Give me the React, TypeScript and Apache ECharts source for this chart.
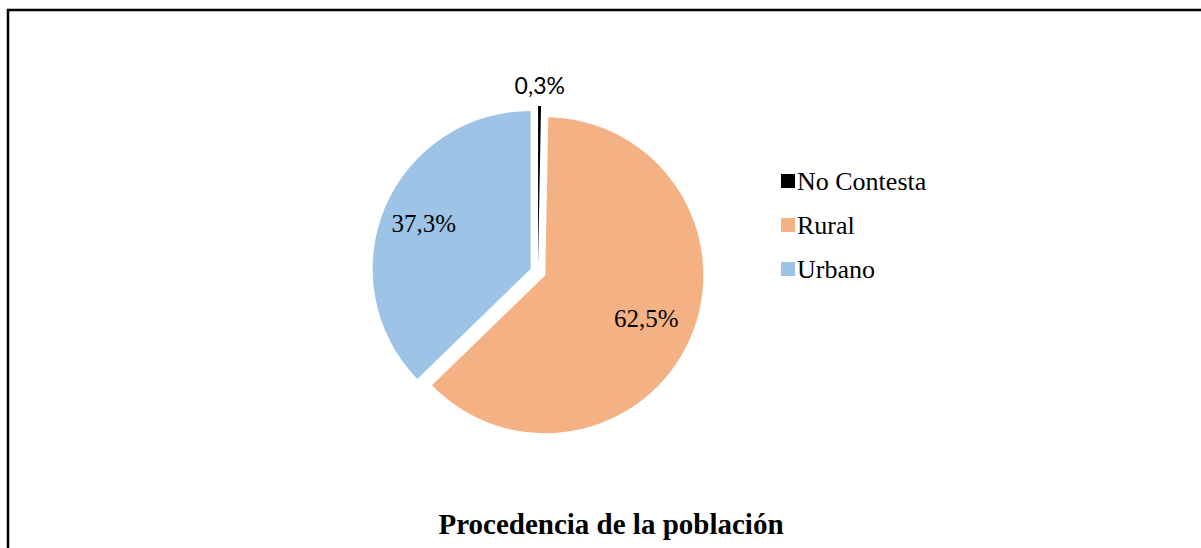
import React, { useEffect, useRef } from "react";
import * as echarts from "echarts";

const categories = ["No Contesta", "Rural", "Urbano"];
const values = [0.3, 62.5, 37.3];
const valueLabels = ["0,3%", "62,5%", "37,3%"];
const colors = ["#000000", "#F4B183", "#9DC3E6"];
const titleText = "Procedencia de la población";

const CENTER = [538, 272];
const RADIUS = 158;
const OFFSET = 8;

function labelSeries(outerRadius: number, showIdx: number[], font: string, size: number) {
  return {
    type: "pie",
    silent: true,
    z: 5,
    center: CENTER,
    radius: [0, outerRadius],
    startAngle: 90,
    clockwise: true,
    selectedMode: "multiple",
    selectedOffset: OFFSET,
    emphasis: { disabled: true },
    itemStyle: { color: "rgba(0,0,0,0)", borderWidth: 0 },
    labelLine: { show: false },
    data: categories.map((name, i) => ({
      name,
      value: values[i],
      selected: true,
      itemStyle: { color: "rgba(0,0,0,0)" },
      label: {
        show: showIdx.includes(i),
        position: "inside",
        formatter: () => valueLabels[i],
        color: "#000",
        fontFamily: font,
        fontSize: size,
      },
    })),
  };
}

export default function App() {
  const ref = useRef<HTMLDivElement>(null);
  useEffect(() => {
    if (!ref.current) return;
    const chart = echarts.init(ref.current, null, { renderer: "svg" });
    chart.setOption({
      animation: false,
      backgroundColor: "#ffffff",
      title: {
        text: titleText,
        left: 611,
        top: 509,
        textAlign: "center",
        padding: 0,
        textStyle: {
          fontFamily: "Liberation Serif",
          fontSize: 29,
          fontWeight: "bold",
          color: "#000",
          lineHeight: 29,
        },
      },
      legend: {
        orient: "vertical",
        left: 776,
        top: 161,
        itemWidth: 14,
        itemHeight: 14,
        itemGap: 14,
        icon: "rect",
        selectedMode: false,
        data: categories.map((name, i) => ({ name, itemStyle: { color: colors[i] } })),
        textStyle: {
          fontFamily: "Liberation Serif",
          fontSize: 26,
          lineHeight: 30,
          color: "#000",
          padding: [0, 0, 0, -3],
        },
      },
      graphic: [
        {
          type: "polyline",
          shape: { points: [[8, 548], [8, 10], [1201, 10]] },
          style: { stroke: "#000", lineWidth: 2.5, fill: null },
          silent: true,
        },
      ],
      series: [
        {
          type: "pie",
          name: "Procedencia",
          center: CENTER,
          radius: [0, RADIUS],
          startAngle: 90,
          clockwise: true,
          selectedMode: "multiple",
          selectedOffset: OFFSET,
          emphasis: { disabled: true },
          label: { show: false },
          labelLine: { show: false },
          itemStyle: { borderWidth: 0 },
          data: categories.map((name, i) => ({
            name,
            value: values[i],
            selected: true,
            itemStyle: { color: colors[i] },
          })),
        },
        labelSeries(226, [2], "Liberation Serif", 25),
        labelSeries(214, [1], "Liberation Serif", 25),
        labelSeries(352, [0], "Lato", 23),
      ],
    });
    return () => chart.dispose();
  }, []);
  return (
    <div
      ref={ref}
      style={{ position: "absolute", left: 0, top: 0, width: 1201, height: 548 }}
    />
  );
}
